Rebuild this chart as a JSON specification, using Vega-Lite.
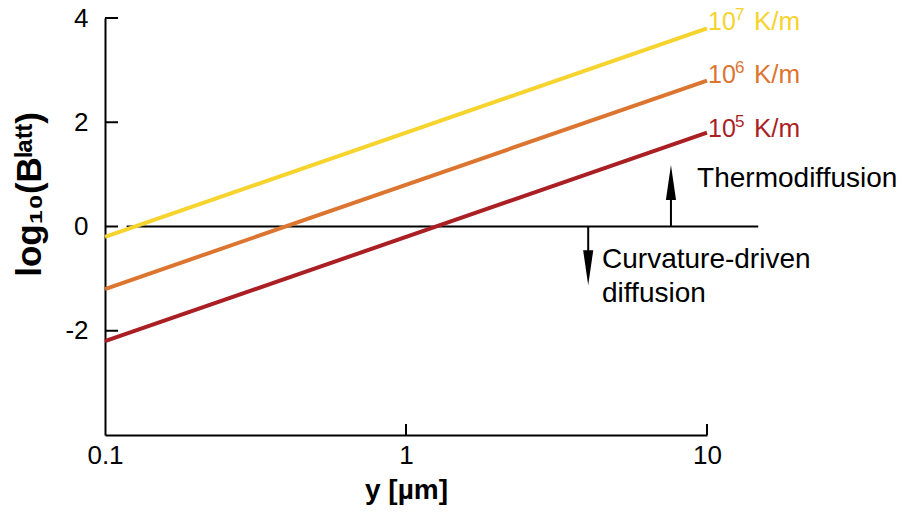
{
  "$schema": "https://vega.github.io/schema/vega-lite/v6.json",
  "width": 602,
  "height": 417,
  "autosize": {"type": "none"},
  "padding": {"left": 105, "top": 18, "right": 201, "bottom": 80},
  "background": "white",
  "config": {
    "view": {"stroke": null},
    "font": "Liberation Sans",
    "axis": {
      "grid": false,
      "ticks": false,
      "domainColor": "black",
      "domainWidth": 2,
      "labelColor": "black",
      "labelFont": "Liberation Sans",
      "labelFontSize": 26,
      "titleFont": "Liberation Sans",
      "titleColor": "black",
      "titleFontWeight": "bold"
    }
  },
  "datasets": {
    "lines": [
      {"series": "1e7", "x": 0.1, "y": -0.2},
      {"series": "1e7", "x": 10, "y": 3.8},
      {"series": "1e6", "x": 0.1, "y": -1.2},
      {"series": "1e6", "x": 10, "y": 2.8},
      {"series": "1e5", "x": 0.1, "y": -2.2},
      {"series": "1e5", "x": 10, "y": 1.8}
    ],
    "zero": [
      {"x": 0.118, "y": 0},
      {"x": 14.8, "y": 0}
    ],
    "yticks": [
      {"x": 0.1, "y": -2},
      {"x": 0.1, "y": 0},
      {"x": 0.1, "y": 2},
      {"x": 0.1, "y": 4}
    ],
    "xticks": [
      {"x": 1, "y": -4},
      {"x": 10, "y": -4}
    ],
    "shafts": [
      {"x": 7.59, "y": 0, "y2": 0.75},
      {"x": 4.03, "y": 0, "y2": -0.72}
    ],
    "heads": [
      {"dir": "up", "x": 7.59, "y": 0.845},
      {"dir": "down", "x": 4.03, "y": -0.79}
    ],
    "labels": [
      {"series": "1e7", "x": 10, "y": 3.77, "base": "10", "exp": "7", "unit": "K/m"},
      {"series": "1e6", "x": 10, "y": 2.75, "base": "10", "exp": "6", "unit": "K/m"},
      {"series": "1e5", "x": 10, "y": 1.71, "base": "10", "exp": "5", "unit": "K/m"}
    ],
    "notes": [
      {"x": 9.27, "y": 0.76, "text": "Thermodiffusion"},
      {"x": 4.48, "y": -0.8, "text": "Curvature-driven"},
      {"x": 4.48, "y": -1.45, "text": "diffusion"}
    ]
  },
  "layer": [
    {
      "data": {"name": "zero"},
      "mark": {"type": "line", "color": "black", "strokeWidth": 2},
      "encoding": {
        "x": {
          "field": "x", "type": "quantitative",
          "scale": {"type": "log", "domain": [0.1, 10], "nice": false},
          "axis": {"values": [0.1, 1, 10], "labelPadding": 7, "labelAlign": "center", "title": "y [µm]", "titleFontSize": 28, "titlePadding": 8, "format": "~g"}
        },
        "y": {
          "field": "y", "type": "quantitative",
          "scale": {"domain": [-4, 4], "nice": false, "zero": false},
          "axis": {"values": [-2, 0, 2, 4], "labelPadding": 17, "labelExpr": "replace(datum.label, '−', '-')", "title": "log₁₀(Bˡᵃᵗᵗ)", "titleFontSize": 35, "titleAngle": -90, "titleX": -76, "titleY": 176, "titleBaseline": "middle", "titleAlign": "center"}
        }
      }
    },
    {
      "data": {"name": "yticks"},
      "mark": {"type": "tick", "orient": "horizontal", "size": 13, "thickness": 2, "xOffset": 6.5, "color": "black", "opacity": 1},
      "encoding": {
        "x": {"field": "x", "type": "quantitative"},
        "y": {"field": "y", "type": "quantitative"}
      }
    },
    {
      "data": {"name": "xticks"},
      "mark": {"type": "tick", "orient": "vertical", "size": 11, "thickness": 2, "yOffset": -5.5, "color": "black", "opacity": 1},
      "encoding": {
        "x": {"field": "x", "type": "quantitative"},
        "y": {"field": "y", "type": "quantitative"}
      }
    },
    {
      "data": {"name": "lines"},
      "mark": {"type": "line", "strokeWidth": 4},
      "encoding": {
        "x": {"field": "x", "type": "quantitative"},
        "y": {"field": "y", "type": "quantitative"},
        "color": {
          "field": "series", "type": "nominal",
          "scale": {"domain": ["1e7", "1e6", "1e5"], "range": ["#F6D32D", "#DB7530", "#A91F24"]},
          "legend": null
        }
      }
    },
    {
      "data": {"name": "shafts"},
      "mark": {"type": "rule", "color": "black", "strokeWidth": 2},
      "encoding": {
        "x": {"field": "x", "type": "quantitative"},
        "y": {"field": "y", "type": "quantitative"},
        "y2": {"field": "y2"}
      }
    },
    {
      "data": {"name": "heads"},
      "mark": {"type": "point", "filled": true, "color": "black", "opacity": 1, "size": 1225},
      "encoding": {
        "x": {"field": "x", "type": "quantitative"},
        "y": {"field": "y", "type": "quantitative"},
        "shape": {
          "field": "dir", "type": "nominal",
          "scale": {"domain": ["up", "down"], "range": ["M0,-1L0.29,1L-0.29,1Z", "M0,1L0.29,-1L-0.29,-1Z"]},
          "legend": null
        }
      }
    },
    {
      "data": {"name": "labels"},
      "mark": {"type": "text", "align": "left", "baseline": "alphabetic", "dx": 1, "fontSize": 25},
      "encoding": {
        "x": {"field": "x", "type": "quantitative"},
        "y": {"field": "y", "type": "quantitative"},
        "text": {"field": "base"},
        "color": {"field": "series", "type": "nominal", "legend": null}
      }
    },
    {
      "data": {"name": "labels"},
      "mark": {"type": "text", "align": "left", "baseline": "alphabetic", "dx": 28, "dy": -10, "fontSize": 17},
      "encoding": {
        "x": {"field": "x", "type": "quantitative"},
        "y": {"field": "y", "type": "quantitative"},
        "text": {"field": "exp"},
        "color": {"field": "series", "type": "nominal", "legend": null}
      }
    },
    {
      "data": {"name": "labels"},
      "mark": {"type": "text", "align": "left", "baseline": "alphabetic", "dx": 47, "fontSize": 26},
      "encoding": {
        "x": {"field": "x", "type": "quantitative"},
        "y": {"field": "y", "type": "quantitative"},
        "text": {"field": "unit"},
        "color": {"field": "series", "type": "nominal", "legend": null}
      }
    },
    {
      "data": {"name": "notes"},
      "mark": {"type": "text", "align": "left", "baseline": "alphabetic", "fontSize": 28, "color": "black"},
      "encoding": {
        "x": {"field": "x", "type": "quantitative"},
        "y": {"field": "y", "type": "quantitative"},
        "text": {"field": "text"}
      }
    }
  ]
}
